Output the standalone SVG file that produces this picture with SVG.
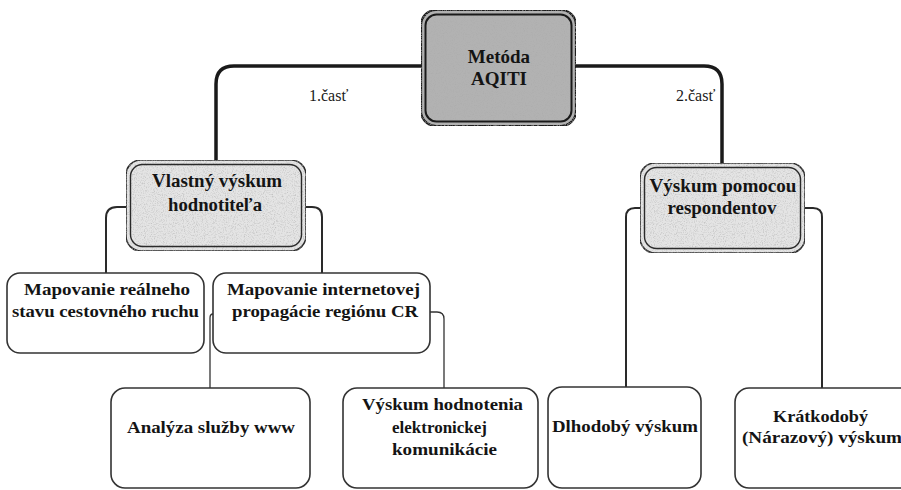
<svg xmlns="http://www.w3.org/2000/svg" width="901" height="490" viewBox="0 0 901 490">
<style>
  .t{font-family:"Liberation Serif","DejaVu Serif","Times New Roman",serif;font-weight:bold;fill:#141414;text-anchor:middle}
  .lbl{font-family:"Liberation Serif","DejaVu Serif","Times New Roman",serif;font-size:16px;fill:#1a1a1a}
  .c1{fill:none;stroke:#1a1a1a;stroke-width:3.5}
  .c2{fill:none;stroke:#2a2a2a;stroke-width:2}
  .c3{fill:none;stroke:#333;stroke-width:1.3}
  .top{fill:#b2b2b2;stroke:#1a1a1a;stroke-width:2.2}
  .topin{fill:none;stroke:#1a1a1a;stroke-width:2}
  .mid{fill:#e4e4e4;stroke:#2a2a2a;stroke-width:1.6}
  .midin{fill:none;stroke:#2a2a2a;stroke-width:1.4}
  .leaf{fill:#fff;stroke:#333;stroke-width:1.6}
  .tex{filter:url(#speck)}
</style>
<defs>
  <filter id="speck" x="0" y="0" width="100%" height="100%">
    <feTurbulence type="fractalNoise" baseFrequency="0.9" numOctaves="2" seed="4" result="n"/>
    <feColorMatrix in="n" type="matrix" values="0 0 0 0 0.4  0 0 0 0 0.4  0 0 0 0 0.4  0 0 0 -1.6 0.85" result="dots"/>
    <feComposite in="dots" in2="SourceGraphic" operator="in" result="d2"/>
    <feMerge><feMergeNode in="SourceGraphic"/><feMergeNode in="d2"/></feMerge>
  </filter>
</defs>
<rect width="901" height="490" fill="#fff"/>
<g id="connectors">
  <path class="c1" d="M421,66 H234 Q216,66 216,84 V160"/>
  <path class="c1" d="M576,66 H704 Q722,66 722,84 V163"/>
  <path class="c2" d="M126,207 H117 Q106,207 106,218 V273"/>
  <path class="c2" d="M306,207 H312 Q322,207 322,217 V273"/>
  <path class="c2" d="M640,208 H635 Q626,208 626,217 V387"/>
  <path class="c2" d="M805,208 H813 Q822,208 822,217 V388"/>
  <path class="c3" d="M213,314 Q210,314 210,318 V388"/>
  <path class="c3" d="M430,312 H437 Q444,312 444,319 V388"/>
</g>
<g id="n-metoda">
  <rect class="top tex" x="421" y="10" width="155" height="116" rx="15"/>
  <rect class="topin" x="425.5" y="14.5" width="146" height="107" rx="11"/>
  <text class="t" x="499" y="63" font-size="19">Metóda</text>
  <text class="t" x="499" y="85" font-size="19">AQITI</text>
</g>
<text class="lbl" x="309" y="101">1.časť</text>
<text class="lbl" x="676" y="101">2.časť</text>
<g id="n-vlastny">
  <rect class="mid tex" x="126" y="160" width="180" height="91" rx="15"/>
  <rect class="midin" x="130.5" y="164.5" width="171" height="82" rx="12"/>
  <text class="t" x="217" y="187" font-size="18" textLength="130" lengthAdjust="spacingAndGlyphs">Vlastný výskum</text>
  <text class="t" x="215" y="211" font-size="18" textLength="94" lengthAdjust="spacingAndGlyphs">hodnotiteľa</text>
</g>
<g id="n-pomocou">
  <rect class="mid tex" x="640" y="163" width="165" height="90" rx="15"/>
  <rect class="midin" x="644.5" y="167.5" width="156" height="81" rx="12"/>
  <text class="t" x="723" y="192" font-size="18" textLength="147" lengthAdjust="spacingAndGlyphs">Výskum pomocou</text>
  <text class="t" x="722" y="214" font-size="18" textLength="109" lengthAdjust="spacingAndGlyphs">respondentov</text>
</g>
<g id="n-realny">
  <rect class="leaf" x="7" y="273" width="197" height="80" rx="13"/>
  <text class="t" x="107" y="295" font-size="17" textLength="166" lengthAdjust="spacingAndGlyphs">Mapovanie reálneho</text>
  <text class="t" x="105.5" y="317" font-size="17" textLength="187" lengthAdjust="spacingAndGlyphs">stavu cestovného ruchu</text>
</g>
<g id="n-internet">
  <rect class="leaf" x="213" y="273" width="217" height="80" rx="13"/>
  <text class="t" x="323.5" y="295" font-size="17" textLength="193" lengthAdjust="spacingAndGlyphs">Mapovanie internetovej</text>
  <text class="t" x="325" y="317" font-size="17" textLength="186" lengthAdjust="spacingAndGlyphs">propagácie regiónu CR</text>
</g>
<g id="n-analyza">
  <rect class="leaf" x="111" y="388" width="199" height="100" rx="14"/>
  <text class="t" x="211" y="433" font-size="17" textLength="168" lengthAdjust="spacingAndGlyphs">Analýza služby www</text>
</g>
<g id="n-hodnotenia">
  <rect class="leaf" x="343" y="388" width="195" height="100" rx="14"/>
  <text class="t" x="442.5" y="410" font-size="17" textLength="161" lengthAdjust="spacingAndGlyphs">Výskum hodnotenia</text>
  <text class="t" x="439.5" y="433" font-size="17" textLength="95" lengthAdjust="spacingAndGlyphs">elektronickej</text>
  <text class="t" x="444.5" y="455" font-size="17" textLength="105" lengthAdjust="spacingAndGlyphs">komunikácie</text>
</g>
<g id="n-dlhodoby">
  <rect class="leaf" x="548" y="387" width="153" height="101" rx="14"/>
  <text class="t" x="625" y="432" font-size="17" textLength="146" lengthAdjust="spacingAndGlyphs">Dlhodobý výskum</text>
</g>
<g id="n-kratkodoby">
  <rect class="leaf" x="735" y="388" width="180" height="100" rx="14"/>
  <text class="t" x="820.5" y="422" font-size="17" textLength="95" lengthAdjust="spacingAndGlyphs">Krátkodobý</text>
  <text class="t" x="822" y="443" font-size="17" textLength="160" lengthAdjust="spacingAndGlyphs">(Nárazový) výskum</text>
</g>
</svg>
